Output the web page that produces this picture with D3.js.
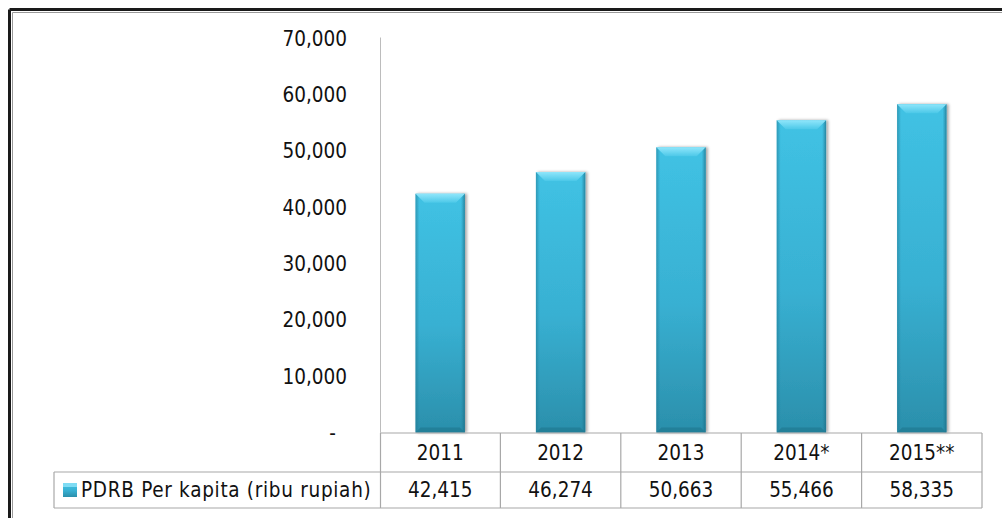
<!DOCTYPE html>
<html>
<head>
<meta charset="utf-8">
<script src="https://cdn.jsdelivr.net/npm/d3@7"></script>
<style>
  html, body { margin: 0; padding: 0; background: #fff; }
  svg { display: block; }
  text { font-family: "DejaVu Sans Condensed", "DejaVu Sans", Verdana, sans-serif; font-stretch: condensed; fill: #111; }
</style>
</head>
<body>
<svg id="chart" width="1002" height="518"></svg>
<script>
// PDRB per kapita (ribu rupiah), 2011-2015
const categories = ["2011", "2012", "2013", "2014*", "2015**"];
const values = [42415, 46274, 50663, 55466, 58335];
const yTicks = [0, 10000, 20000, 30000, 40000, 50000, 60000, 70000];
const seriesName = "PDRB Per kapita (ribu rupiah)";

const FS = 20.5;
const svg = d3.select("#chart");
const defs = svg.append("defs");

// Outer frame (double line on top and left)
svg.append("line").attr("x1", 9.5).attr("y1", 9.5).attr("x2", 1002).attr("y2", 9.5)
  .attr("stroke", "#1a1a1a").attr("stroke-width", 3);
svg.append("line").attr("x1", 9.5).attr("y1", 9.5).attr("x2", 9.5).attr("y2", 518)
  .attr("stroke", "#1a1a1a").attr("stroke-width", 3);
svg.append("line").attr("x1", 12.5).attr("y1", 12.5).attr("x2", 1002).attr("y2", 12.5)
  .attr("stroke", "#9a9a9a").attr("stroke-width", 1);
svg.append("line").attr("x1", 12.5).attr("y1", 12.5).attr("x2", 12.5).attr("y2", 518)
  .attr("stroke", "#9a9a9a").attr("stroke-width", 1);

const plotLeft = 380, plotRight = 982;
const y = d3.scaleLinear().domain([0, 70000]).range([432.5, 38.5]);
const x = d3.scaleBand().domain(categories).range([plotLeft, plotRight]).padding(0);
const barW = x.bandwidth() * 0.41;

// Gradients for the bevelled bars
const gBody = defs.append("linearGradient").attr("id", "body")
  .attr("x1", 0).attr("y1", 0).attr("x2", 0).attr("y2", 1);
gBody.append("stop").attr("offset", "0%").attr("stop-color", "#40c2e4");
gBody.append("stop").attr("offset", "55%").attr("stop-color", "#38b0d2");
gBody.append("stop").attr("offset", "100%").attr("stop-color", "#2b8fab");

const gSide = defs.append("linearGradient").attr("id", "side")
  .attr("x1", 0).attr("y1", 0).attr("x2", 1).attr("y2", 0);
gSide.append("stop").attr("offset", "0%").attr("stop-color", "#1f7892").attr("stop-opacity", 0.55);
gSide.append("stop").attr("offset", "8%").attr("stop-color", "#1f7892").attr("stop-opacity", 0);
gSide.append("stop").attr("offset", "92%").attr("stop-color", "#1f7892").attr("stop-opacity", 0);
gSide.append("stop").attr("offset", "100%").attr("stop-color", "#1a6a82").attr("stop-opacity", 0.7);

const gTop = defs.append("linearGradient").attr("id", "topbev")
  .attr("x1", 0).attr("y1", 0).attr("x2", 0).attr("y2", 1);
gTop.append("stop").attr("offset", "0%").attr("stop-color", "#8fe6fb");
gTop.append("stop").attr("offset", "100%").attr("stop-color", "#4cc8e8");

const shadow = defs.append("filter").attr("id", "shadow")
  .attr("x", "-20%").attr("y", "-10%").attr("width", "140%").attr("height", "120%");
shadow.append("feGaussianBlur").attr("in", "SourceAlpha").attr("stdDeviation", 1.5);
shadow.append("feOffset").attr("dx", 1.5).attr("dy", 0).attr("result", "b");
shadow.append("feComponentTransfer").append("feFuncA").attr("type", "linear").attr("slope", 0.35);
const merge = shadow.append("feMerge");
merge.append("feMergeNode");
merge.append("feMergeNode").attr("in", "SourceGraphic");

// Value axis line
svg.append("line").attr("x1", plotLeft + 0.5).attr("x2", plotLeft + 0.5)
  .attr("y1", y(70000) - 1).attr("y2", y(0))
  .attr("stroke", "#bcbcbc").attr("stroke-width", 1);

// Tick labels
const fmt = d3.format(",");
svg.append("g").selectAll("text").data(yTicks).join("text")
  .attr("x", d => d === 0 ? 336 : 347)
  .attr("y", d => y(d))
  .attr("dy", "0.36em")
  .attr("text-anchor", "end")
  .attr("font-size", FS)
  .text(d => d === 0 ? "-" : fmt(d));

// Bars
const bars = svg.append("g").selectAll("g").data(categories).join("g")
  .attr("filter", "url(#shadow)");
bars.each(function (c, i) {
  const g = d3.select(this);
  const x0 = x(c) + (x.bandwidth() - barW) / 2;
  const y0 = y(values[i]);
  const h = y(0) - y0;
  g.append("rect").attr("x", x0).attr("y", y0).attr("width", barW).attr("height", h)
    .attr("fill", "url(#body)");
  g.append("rect").attr("x", x0).attr("y", y0).attr("width", barW).attr("height", h)
    .attr("fill", "url(#side)");
  const bev = 9;
  g.append("path")
    .attr("d", `M${x0},${y0} L${x0 + barW},${y0} L${x0 + barW - bev},${y0 + bev} L${x0 + bev},${y0 + bev} Z`)
    .attr("fill", "url(#topbev)");
  g.append("path")
    .attr("d", `M${x0},${y0 + h} L${x0 + barW},${y0 + h} L${x0 + barW - 5},${y0 + h - 5} L${x0 + 5},${y0 + h - 5} Z`)
    .attr("fill", "#237c95").attr("opacity", 0.8);
});

// Data table
const rowTop = 433, rowMid = 472, rowBot = 508, legendLeft = 54;
const grid = svg.append("g").attr("stroke", "#a8a8a8").attr("stroke-width", 1.2);
grid.append("line").attr("x1", plotLeft).attr("x2", plotRight).attr("y1", rowTop).attr("y2", rowTop);
grid.append("line").attr("x1", legendLeft).attr("x2", plotRight).attr("y1", rowMid).attr("y2", rowMid);
grid.append("line").attr("x1", legendLeft).attr("x2", plotRight).attr("y1", rowBot).attr("y2", rowBot);
grid.append("line").attr("x1", legendLeft).attr("x2", legendLeft).attr("y1", rowMid).attr("y2", rowBot);
grid.append("line").attr("x1", plotLeft + 0.5).attr("x2", plotLeft + 0.5).attr("y1", rowTop).attr("y2", rowBot);
grid.selectAll(".v").data(categories).join("line")
  .attr("x1", c => x(c) + x.bandwidth()).attr("x2", c => x(c) + x.bandwidth())
  .attr("y1", rowTop).attr("y2", rowBot);

svg.append("g").selectAll("text").data(categories).join("text")
  .attr("x", c => x(c) + x.bandwidth() / 2)
  .attr("y", (rowTop + rowMid) / 2)
  .attr("dy", "0.36em")
  .attr("text-anchor", "middle")
  .attr("font-size", FS)
  .text(c => c);

svg.append("g").selectAll("text").data(categories).join("text")
  .attr("x", c => x(c) + x.bandwidth() / 2)
  .attr("y", (rowMid + rowBot) / 2)
  .attr("dy", "0.36em")
  .attr("text-anchor", "middle")
  .attr("font-size", FS)
  .text((c, i) => fmt(values[i]));

// Legend key
const sw = svg.append("g");
sw.append("rect").attr("x", 63).attr("y", 483).attr("width", 14).attr("height", 14)
  .attr("fill", "url(#body)");
sw.append("rect").attr("x", 63).attr("y", 483).attr("width", 14).attr("height", 4)
  .attr("fill", "#7fdcf4");
svg.append("text").attr("x", 81).attr("y", (rowMid + rowBot) / 2)
  .attr("dy", "0.36em").attr("font-size", FS).attr("letter-spacing", 0.7).text(seriesName);
</script>
</body>
</html>
